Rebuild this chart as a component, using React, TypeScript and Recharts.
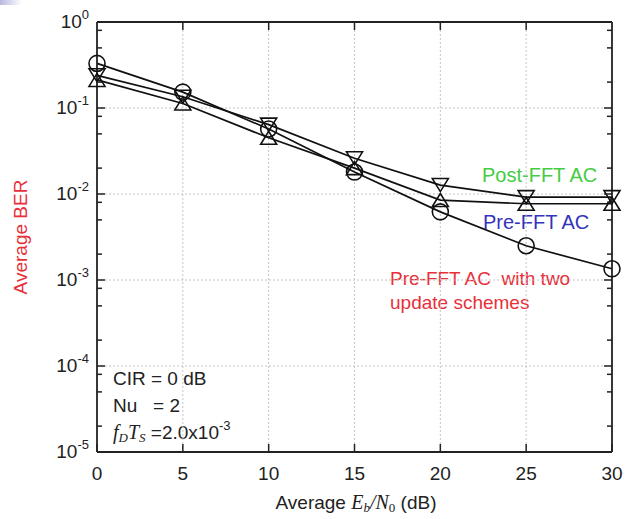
import React from 'react';
import { LineChart, Line, XAxis, YAxis, ReferenceLine, Customized } from 'recharts';

const snrDb = [0, 5, 10, 15, 20, 25, 30];
const preTwoUpdate = [0.33, 0.153, 0.057, 0.018, 0.0062, 0.0025, 0.00135];
const postFftAc = [0.24, 0.135, 0.064, 0.026, 0.0127, 0.0092, 0.0092];
const preFftAc = [0.212, 0.113, 0.045, 0.02, 0.0085, 0.0077, 0.0077];

const xTicks = [0, 5, 10, 15, 20, 25, 30];
const yMajor = [1, 1e-1, 1e-2, 1e-3, 1e-4, 1e-5];
const yMinorFactors = [2, 5, 8];
const xGrid = [5, 10, 15, 20, 25];
const yGrid = [1e-1, 1e-2, 1e-3, 1e-4];

const yTicks: number[] = [];
yMajor.forEach((m) => {
  yTicks.push(m);
  if (m > 1e-5) yMinorFactors.forEach((f) => yTicks.push((m / 10) * f));
});

const data = snrDb.map((x, i) => ({
  x,
  preTwo: preTwoUpdate[i],
  post: postFftAc[i],
  pre: preFftAc[i],
}));

const FONT = '"Liberation Sans", Arial, Helvetica, sans-serif';
const SERIF = '"Liberation Serif", "Times New Roman", serif';
const INK = '#222';

const isMajor = (v: number) => {
  const l = Math.log10(v);
  return Math.abs(l - Math.round(l)) < 1e-6;
};

const LeftTick = (props: any) => {
  const { x, y, payload } = props;
  const v = payload.value;
  const major = isMajor(v);
  const len = major ? 8 : 5;
  const e = Math.round(Math.log10(v));
  return (
    <g>
      <line x1={x} x2={x + len} y1={y} y2={y} stroke={INK} strokeWidth={1.5} />
      {major && (
        <text x={x - 8} y={y + 6} textAnchor="end" fontFamily={FONT} fontSize={19} fill={INK}>
          10
          <tspan dy={-9} fontSize={13}>{e === 0 ? '0' : `-${Math.abs(e)}`}</tspan>
        </text>
      )}
    </g>
  );
};

const RightTick = (props: any) => {
  const { x, y, payload } = props;
  const major = isMajor(payload.value);
  const len = major ? 8 : 5;
  return <line x1={x} x2={x - len} y1={y} y2={y} stroke={INK} strokeWidth={1.5} />;
};

const BottomTick = (props: any) => {
  const { x, y, payload } = props;
  return (
    <g>
      <line x1={x} x2={x} y1={y} y2={y - 8} stroke={INK} strokeWidth={1.5} />
      <text x={x} y={y + 28} textAnchor="middle" fontFamily={FONT} fontSize={19} fill={INK}>
        {payload.value}
      </text>
    </g>
  );
};

const TopTick = (props: any) => {
  const { x, y } = props;
  return <line x1={x} x2={x} y1={y} y2={y + 8} stroke={INK} strokeWidth={1.5} />;
};

const CircleDot = (props: any) => {
  const { cx, cy, index } = props;
  if (cx == null || cy == null) return null;
  return <circle key={`c${index}`} cx={cx} cy={cy} r={8} fill="none" stroke="#111" strokeWidth={1.6} />;
};

const DownTri = (props: any) => {
  const { cx, cy, index } = props;
  if (cx == null || cy == null) return null;
  const pts = `${cx - 8},${cy - 6.5} ${cx + 8},${cy - 6.5} ${cx},${cy + 6.5}`;
  return <polygon key={`d${index}`} points={pts} fill="none" stroke="#111" strokeWidth={1.6} />;
};

const UpTri = (props: any) => {
  const { cx, cy, index } = props;
  if (cx == null || cy == null) return null;
  const pts = `${cx - 8},${cy + 6.5} ${cx + 8},${cy + 6.5} ${cx},${cy - 6.5}`;
  return <polygon key={`u${index}`} points={pts} fill="none" stroke="#111" strokeWidth={1.6} />;
};

const Annotations = () => (
  <g>
    <defs>
      <linearGradient id="corner" x1="0" y1="0" x2="1" y2="0">
        <stop offset="0" stopColor="#b8b8e0" />
        <stop offset="1" stopColor="#ffffff" />
      </linearGradient>
    </defs>
    <rect x={0} y={0} width={22} height={5} fill="url(#corner)" />

    <text x={482} y={181.5} fontFamily={FONT} fontSize={20} fill="#44cc44">Post-FFT AC</text>
    <text x={483} y={228.5} fontFamily={FONT} fontSize={20} fill="#3333bb">Pre-FFT AC</text>
    <text x={390} y={285} fontFamily={FONT} fontSize={19} fill="#e8303a" style={{ whiteSpace: 'pre' }}>
      {'Pre-FFT AC  with two'}
    </text>
    <text x={390} y={309} fontFamily={FONT} fontSize={19} fill="#e8303a">update schemes</text>

    <text x={113} y={385} fontFamily={FONT} fontSize={19} fill={INK}>CIR = 0 dB</text>
    <text x={113} y={412} fontFamily={FONT} fontSize={19} fill={INK} style={{ whiteSpace: 'pre' }}>
      {'Nu   = 2'}
    </text>
    <text x={113} y={439} fontFamily={FONT} fontSize={19} fill={INK}>
      <tspan fontFamily={SERIF} fontStyle="italic" fontSize={20}>f</tspan>
      <tspan fontFamily={SERIF} fontStyle="italic" fontSize={13} dy={3}>D</tspan>
      <tspan fontFamily={SERIF} fontStyle="italic" fontSize={20} dy={-3}>T</tspan>
      <tspan fontFamily={SERIF} fontStyle="italic" fontSize={13} dy={3}>S</tspan>
      <tspan dy={-3}> =2.0x10</tspan>
      <tspan fontSize={13} dy={-9}>-3</tspan>
    </text>

    <text x={356} y={509} textAnchor="middle" fontFamily={FONT} fontSize={19} fill={INK}>
      {'Average '}
      <tspan fontFamily={SERIF} fontStyle="italic" fontSize={20}>E</tspan>
      <tspan fontFamily={SERIF} fontStyle="italic" fontSize={13} dy={3}>b</tspan>
      <tspan fontFamily={SERIF} fontStyle="italic" fontSize={20} dy={-3}>/N</tspan>
      <tspan fontFamily={SERIF} fontSize={13} dy={3}>0</tspan>
      <tspan dy={-3}> (dB)</tspan>
    </text>

    <text
      x={0}
      y={0}
      transform="translate(27 237) rotate(-90)"
      textAnchor="middle"
      fontFamily={FONT}
      fontSize={19}
      fill="#e8303a"
    >
      Average BER
    </text>
  </g>
);

export default function App() {
  return (
    <div style={{ position: 'absolute', left: 0, top: 0, width: 628, height: 519, background: '#fff', overflow: 'hidden' }}>
      <LineChart width={628} height={519} data={data} margin={{ top: 0, right: 0, bottom: 0, left: 0 }}>
        <XAxis
          xAxisId="b"
          dataKey="x"
          type="number"
          domain={[0, 30]}
          ticks={xTicks}
          interval={0}
          height={67}
          tickSize={0}
          tickMargin={0}
          tickLine={false}
          axisLine={{ stroke: INK, strokeWidth: 1.8 }}
          tick={<BottomTick />}
        />
        <XAxis
          xAxisId="t"
          orientation="top"
          dataKey="x"
          type="number"
          domain={[0, 30]}
          ticks={xGrid}
          interval={0}
          height={22}
          tickSize={0}
          tickMargin={0}
          tickLine={false}
          axisLine={{ stroke: INK, strokeWidth: 1.8 }}
          tick={<TopTick />}
        />
        <YAxis
          yAxisId="l"
          scale="log"
          type="number"
          domain={[1e-5, 1]}
          allowDataOverflow
          ticks={yTicks}
          interval={0}
          width={97}
          tickSize={0}
          tickMargin={0}
          tickLine={false}
          axisLine={{ stroke: INK, strokeWidth: 1.8 }}
          tick={<LeftTick />}
        />
        <YAxis
          yAxisId="r"
          orientation="right"
          scale="log"
          type="number"
          domain={[1e-5, 1]}
          allowDataOverflow
          ticks={yTicks}
          interval={0}
          width={16}
          tickSize={0}
          tickMargin={0}
          tickLine={false}
          axisLine={{ stroke: INK, strokeWidth: 1.8 }}
          tick={<RightTick />}
        />
        {xGrid.map((g) => (
          <ReferenceLine key={`vx${g}`} x={g} xAxisId="b" yAxisId="l" stroke="#c4c4c4" strokeDasharray="2 2" strokeWidth={1} />
        ))}
        {yGrid.map((g) => (
          <ReferenceLine key={`hy${g}`} y={g} xAxisId="b" yAxisId="l" stroke="#c4c4c4" strokeDasharray="2 2" strokeWidth={1} />
        ))}
        <Line
          xAxisId="b"
          yAxisId="l"
          dataKey="post"
          stroke="#111"
          strokeWidth={1.7}
          dot={<DownTri />}
          activeDot={false}
          isAnimationActive={false}
        />
        <Line
          xAxisId="b"
          yAxisId="l"
          dataKey="pre"
          stroke="#111"
          strokeWidth={1.7}
          dot={<UpTri />}
          activeDot={false}
          isAnimationActive={false}
        />
        <Line
          xAxisId="b"
          yAxisId="l"
          dataKey="preTwo"
          stroke="#111"
          strokeWidth={1.7}
          dot={<CircleDot />}
          activeDot={false}
          isAnimationActive={false}
        />
        <Customized component={<Annotations />} />
      </LineChart>
    </div>
  );
}
